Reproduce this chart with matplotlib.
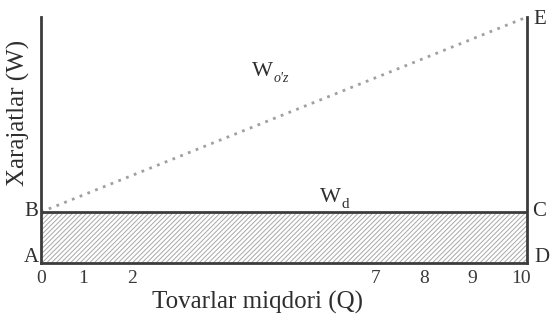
import matplotlib
matplotlib.use("Agg")
import matplotlib.pyplot as plt
import matplotlib.transforms as mtransforms
from matplotlib.patches import Rectangle

plt.rcParams['font.family'] = ['Liberation Serif', 'DejaVu Serif']
plt.rcParams['hatch.linewidth'] = 0.7
plt.rcParams['hatch.color'] = '#a8a8a8'

# Data
q_ticks = [0, 1, 2, 7, 8, 9, 10]
q_tick_labels = ['0', '1', '2', '7', '8', '9', '10']
q_range = [0, 10]
fixed_cost = [1.0, 1.0]          # W_d (constant)
total_cost = [1.0, 4.82]         # W_o'z (line from B to E)
y_max = 4.82

dark = '#3c3c3c'
W, H = 552, 322
fig = plt.figure(figsize=(W / 100, H / 100), dpi=100)
ax = fig.add_axes([41 / W, 1 - 263 / H, (527 - 41) / W, (263 - 17) / H])
ax.set_xlim(0, 10)
ax.set_ylim(0, y_max)
ax.patch.set_alpha(0)
for s in ['top', 'right']:
    ax.spines[s].set_visible(False)
for s in ['left', 'bottom']:
    ax.spines[s].set_color(dark)
    ax.spines[s].set_linewidth(2)

# hatched fixed-cost area
ax.add_patch(Rectangle((q_range[0], 0), q_range[1] - q_range[0], fixed_cost[0],
                       facecolor='white', edgecolor='#a8a8a8', hatch='///////',
                       linewidth=0, zorder=1))
# W_d line
ax.plot(q_range, fixed_cost, color=dark, lw=2, zorder=3, solid_capstyle='butt')
# right vertical line D-E
ax.plot([q_range[1], q_range[1]], [0, y_max], color=dark, lw=2, zorder=3,
        clip_on=False)
# W_o'z dotted line
ax.plot(q_range, total_cost, color='#a0a0a0', lw=2, linestyle=(0, (1, 2)),
        zorder=2, clip_on=False)

ax.set_xticks(q_ticks)
ax.set_xticklabels(q_tick_labels, fontsize=14, color='#3a3a3a')
ax.tick_params(axis='x', length=0, pad=5)
offset = mtransforms.ScaledTranslation(-6 / 100, 0, fig.dpi_scale_trans)
for i, lbl in enumerate(ax.get_xticklabels()):
    if i > 0:
        lbl.set_transform(lbl.get_transform() + offset)
ax.set_yticks([])

tc = '#2e2e2e'
fig.text(258 / W, 1 - 302 / H, 'Tovarlar miqdori (Q)', ha='center', va='center',
         fontsize=18, color=tc)
fig.text(18 / W, 1 - 113 / H, 'Xarajatlar (W)', ha='center', va='center',
         rotation=90, fontsize=18, color=tc)

pts = {'A': (31, 257), 'B': (31, 212), 'C': (539, 212), 'D': (542, 258), 'E': (540, 20)}
for k, (px, py) in pts.items():
    fig.text(px / W, 1 - py / H, k, ha='center', va='center', fontsize=15,
             color=tc)

fig.text(252 / W, 1 - 71 / H, "W", ha='left', va='center', fontsize=16, color=tc)
fig.text(274 / W, 1 - 78 / H, "o'z", ha='left', va='center', fontsize=10,
         style='italic', color=tc)
fig.text(320 / W, 1 - 198 / H, "W", ha='left', va='center', fontsize=16, color=tc)
fig.text(342 / W, 1 - 205 / H, "d", ha='left', va='center', fontsize=11, color=tc)

fig.savefig('out.png', dpi=100)
